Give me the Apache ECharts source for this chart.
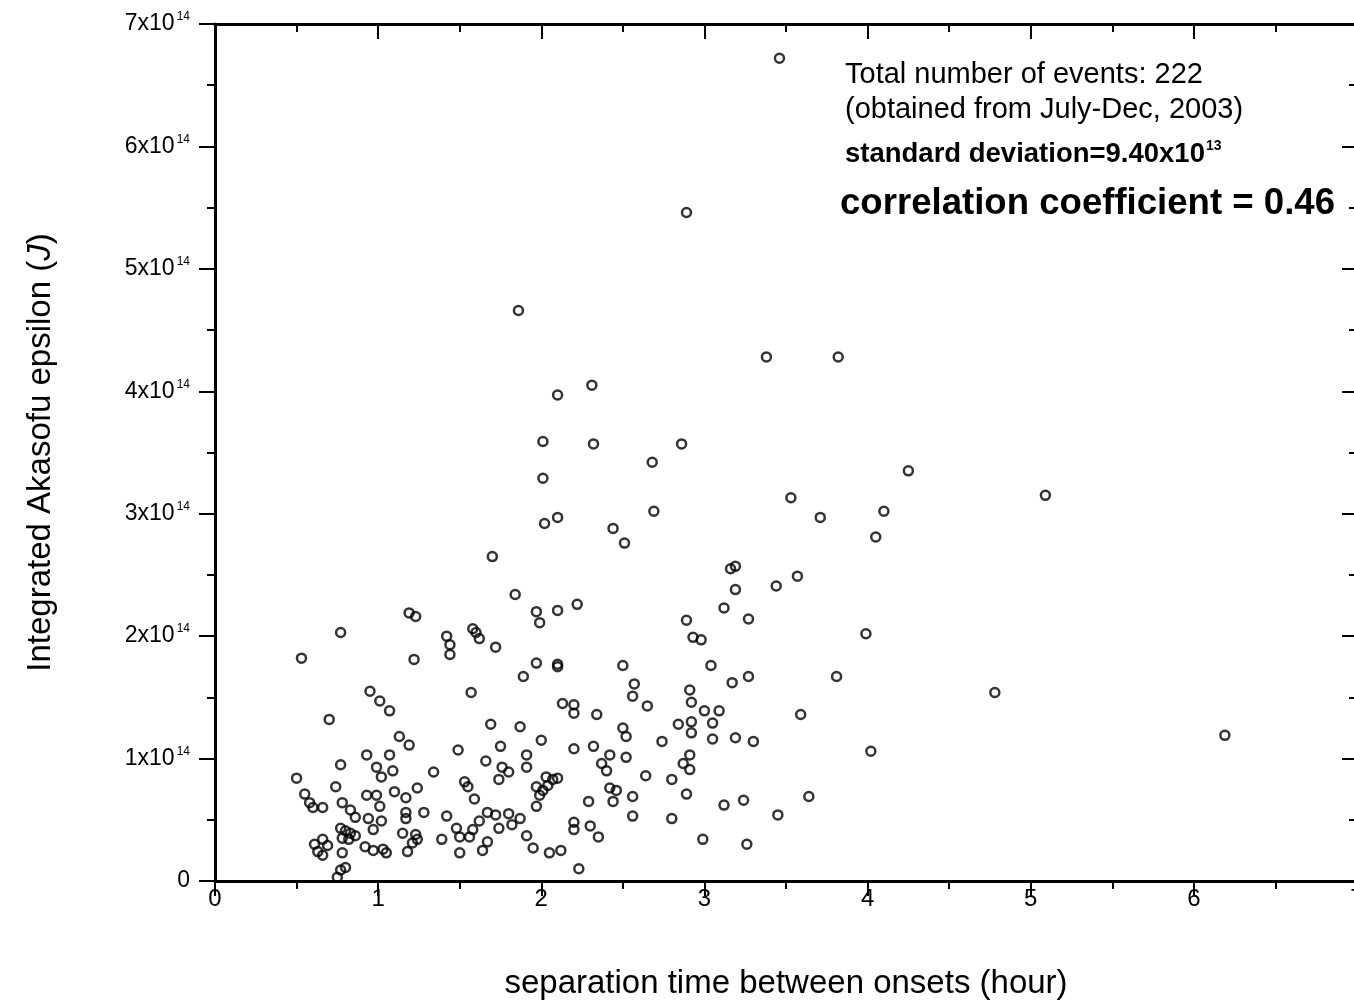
<!DOCTYPE html>
<html>
<head>
<meta charset="utf-8">
<script src="https://cdn.jsdelivr.net/npm/echarts@6.0.0/dist/echarts.min.js"></script>
<style>
  html, body { margin: 0; padding: 0; background: #fff; }
  #chart { width: 1354px; height: 1000px; }
</style>
</head>
<body>
<div id="chart"></div>
<script>
// separation time between onsets (hour)
const sepHours = [
    3.46, 2.89, 1.86, 3.38, 3.82, 2.31, 2.10, 2.01, 2.32, 2.86,
    2.68, 4.25, 2.01, 5.09, 3.53, 2.69, 4.10, 3.71, 2.10, 2.02,
    2.44, 4.05, 2.51, 1.70, 3.16, 3.19, 3.57, 3.44, 3.19, 1.84,
    2.22, 3.12, 2.10, 1.97, 1.19, 1.23, 3.27, 2.89, 1.99, 1.58,
    1.60, 0.77, 3.99, 1.42, 1.62, 2.93, 2.98, 1.44, 1.72, 1.44,
    0.53, 1.22, 1.97, 2.10, 2.10, 2.50, 3.04, 1.89, 3.27, 3.81,
    3.17, 2.57, 2.91, 0.95, 1.57, 4.78, 2.56, 1.01, 2.92, 2.13,
    2.20, 2.65, 3.00, 3.09, 1.07, 2.20, 3.59, 2.34, 0.70, 2.92,
    2.84, 3.05, 1.69, 1.87, 2.50, 6.19, 2.92, 1.13, 2.52, 3.19,
    3.05, 2.00, 2.74, 3.30, 1.19, 1.75, 2.32, 2.20, 1.49, 4.02,
    0.93, 1.07, 1.91, 2.42, 2.91, 2.52, 1.66, 2.37, 2.87, 0.77,
    0.99, 1.91, 1.76, 2.40, 2.91, 1.09, 1.80, 1.34, 1.02, 2.64,
    0.50, 1.74, 2.80, 2.03, 2.07, 2.10, 2.04, 2.01, 1.97, 1.99,
    1.97, 1.53, 1.55, 0.74, 1.24, 2.42, 2.46, 1.10, 0.55, 0.93,
    0.99, 2.89, 2.56, 1.17, 1.59, 2.44, 2.29, 3.24, 0.58, 0.78,
    1.01, 3.12, 0.60, 0.66, 3.64, 0.83, 1.28, 1.67, 1.17, 1.72,
    1.80, 2.56, 1.42, 3.45, 0.86, 0.94, 1.17, 1.87, 2.80, 1.62,
    1.02, 2.20, 1.82, 2.30, 1.48, 1.74, 2.20, 0.97, 1.58, 1.15,
    0.77, 0.80, 0.83, 0.86, 0.78, 0.82, 1.23, 1.91, 1.56, 1.50,
    2.35, 1.24, 0.66, 2.99, 1.39, 1.67, 0.61, 3.26, 1.21, 0.69,
    0.92, 1.95, 1.03, 1.64, 0.97, 1.18, 0.63, 2.12, 2.05, 1.05,
    1.50, 0.78, 0.66, 0.80, 0.77, 0.75, 2.23,
]
// integrated Akasofu epsilon, in units of 10^14 J
const epsilon14 = [
    6.72, 5.46, 4.66, 4.28, 4.28, 4.05, 3.97, 3.59, 3.57, 3.57,
    3.42, 3.35, 3.29, 3.15, 3.13, 3.02, 3.02, 2.97, 2.97, 2.92,
    2.88, 2.81, 2.76, 2.65, 2.55, 2.57, 2.49, 2.41, 2.38, 2.34,
    2.26, 2.23, 2.21, 2.20, 2.19, 2.16, 2.14, 2.13, 2.11, 2.06,
    2.03, 2.03, 2.02, 2.00, 1.98, 1.99, 1.97, 1.93, 1.91, 1.85,
    1.82, 1.81, 1.78, 1.77, 1.75, 1.76, 1.76, 1.67, 1.67, 1.67,
    1.62, 1.61, 1.56, 1.55, 1.54, 1.54, 1.51, 1.47, 1.46, 1.45,
    1.44, 1.43, 1.39, 1.39, 1.39, 1.37, 1.36, 1.36, 1.32, 1.30,
    1.28, 1.29, 1.28, 1.26, 1.25, 1.19, 1.21, 1.18, 1.18, 1.17,
    1.16, 1.15, 1.14, 1.14, 1.11, 1.10, 1.10, 1.08, 1.07, 1.06,
    1.03, 1.03, 1.03, 1.03, 1.03, 1.01, 0.98, 0.96, 0.96, 0.95,
    0.93, 0.93, 0.93, 0.90, 0.91, 0.90, 0.89, 0.89, 0.85, 0.86,
    0.84, 0.83, 0.83, 0.85, 0.83, 0.84, 0.78, 0.74, 0.77, 0.70,
    0.61, 0.81, 0.77, 0.77, 0.76, 0.76, 0.74, 0.73, 0.71, 0.70,
    0.70, 0.71, 0.69, 0.68, 0.67, 0.65, 0.65, 0.66, 0.64, 0.64,
    0.61, 0.62, 0.60, 0.60, 0.69, 0.58, 0.56, 0.56, 0.56, 0.54,
    0.55, 0.53, 0.53, 0.54, 0.52, 0.51, 0.51, 0.51, 0.51, 0.49,
    0.49, 0.48, 0.46, 0.45, 0.43, 0.43, 0.42, 0.42, 0.42, 0.39,
    0.43, 0.41, 0.39, 0.37, 0.35, 0.34, 0.38, 0.37, 0.36, 0.36,
    0.36, 0.34, 0.34, 0.34, 0.34, 0.32, 0.30, 0.30, 0.31, 0.29,
    0.28, 0.27, 0.26, 0.25, 0.25, 0.24, 0.24, 0.25, 0.23, 0.23,
    0.23, 0.23, 0.21, 0.11, 0.09, 0.03, 0.10,
]
const xTickLabels = ['0', '1', '2', '3', '4', '5', '6', '7']
const yTickExp = '14'
const infoLines = ['Total number of events: 222', '(obtained from July-Dec, 2003)']
const stdDev = '9.40x10'
const stdDevExp = '13'
const corrCoef = '0.46'

const FONT = '"Liberation Sans", Arial, Helvetica, sans-serif'
const chart = echarts.init(document.getElementById('chart'))
const points = sepHours.map((h, i) => [h, epsilon14[i]])

const tickCommon = {
    axisLine: { show: true, onZero: false, lineStyle: { color: '#000', width: 3 } },
    axisTick: { show: true, length: 15, lineStyle: { color: '#000', width: 2 } },
    minorTick: { show: true, splitNumber: 2, length: 8, lineStyle: { color: '#000', width: 2 } },
    splitLine: { show: false },
}

const option = {
    animation: false,
    backgroundColor: '#fff',
    grid: {
        left: 215,
        top: 24,
        width: 1142,
        height: 857,
        outerBoundsMode: 'none',
    },
    xAxis: [
        {
            type: 'value',
            min: 0,
            max: 7,
            interval: 1,
            position: 'bottom',
            ...tickCommon,
            axisLabel: {
                color: '#000',
                fontSize: 24,
                fontFamily: FONT,
                margin: 6,
                showMaxLabel: true,
                formatter: (v) => xTickLabels[v],
            },
            name: 'separation time between onsets (hour)',
            nameLocation: 'middle',
            nameGap: 86,
            nameTextStyle: { color: '#000', fontSize: 33, fontFamily: FONT },
        },
        {
            type: 'value',
            min: 0,
            max: 7,
            interval: 1,
            position: 'top',
            ...tickCommon,
            axisTick: { show: true, inside: true, length: 15, lineStyle: { color: '#000', width: 2 } },
            axisLabel: { show: false },
        },
    ],
    yAxis: [
        {
            type: 'value',
            min: 0,
            max: 7,
            interval: 1,
            position: 'left',
            ...tickCommon,
            axisTick: { show: true, length: 16, lineStyle: { color: '#000', width: 2 } },
            axisLabel: {
                color: '#000',
                margin: 25,
                fontFamily: FONT,
                formatter: (v) => (v === 0 ? '{m|0}' : `{m|${v}x10}{s|${yTickExp}}`),
                rich: {
                    m: { fontSize: 23, fontFamily: FONT, color: '#000', lineHeight: 26 },
                    s: { fontSize: 12, fontFamily: FONT, color: '#000', verticalAlign: 'top', lineHeight: 26, padding: [0, 0, 0, 2] },
                },
            },
            name: '{n|Integrated Akasofu epsilon (}{i|J}{n|)}',
            nameLocation: 'middle',
            nameGap: 158,
            nameTextStyle: {
                color: '#000',
                rich: {
                    n: { fontSize: 33, fontFamily: FONT, color: '#000' },
                    i: { fontSize: 33, fontFamily: FONT, fontStyle: 'italic', color: '#000' },
                },
            },
        },
        {
            type: 'value',
            min: 0,
            max: 7,
            interval: 1,
            position: 'right',
            ...tickCommon,
            axisTick: { show: true, inside: true, length: 15, lineStyle: { color: '#000', width: 2 } },
            axisLabel: { show: false },
        },
    ],
    graphic: [
        {
            type: 'text',
            left: 845,
            top: 60,
            style: { text: infoLines[0], fontSize: 29, fontFamily: FONT, fill: '#000' },
        },
        {
            type: 'text',
            left: 845,
            top: 95,
            style: { text: infoLines[1], fontSize: 29, fontFamily: FONT, fill: '#000' },
        },
        {
            type: 'text',
            left: 845,
            top: 139,
            style: {
                text: `{b|standard deviation=${stdDev}}{s|${stdDevExp}}`,
                fill: '#000',
                rich: {
                    b: { fontSize: 27.5, fontWeight: 'bold', fontFamily: FONT, fill: '#000', lineHeight: 30 },
                    s: { fontSize: 14, fontWeight: 'bold', fontFamily: FONT, fill: '#000', verticalAlign: 'top', lineHeight: 30, padding: [0, 0, 0, 1] },
                },
            },
        },
        {
            type: 'text',
            left: 840,
            top: 185,
            style: {
                text: `correlation coefficient = ${corrCoef}`,
                fontSize: 36.6,
                fontWeight: 'bold',
                fontFamily: FONT,
                fill: '#000',
            },
        },
    ],
    series: [
        {
            type: 'scatter',
            xAxisIndex: 0,
            yAxisIndex: 0,
            data: points,
            symbol: 'circle',
            symbolSize: 9,
            itemStyle: { color: 'rgba(0,0,0,0)', borderColor: '#000', borderWidth: 2.5 },
            emphasis: { disabled: true },
            silent: true,
        },
    ],
}
chart.setOption(option)
</script>
</body>
</html>
